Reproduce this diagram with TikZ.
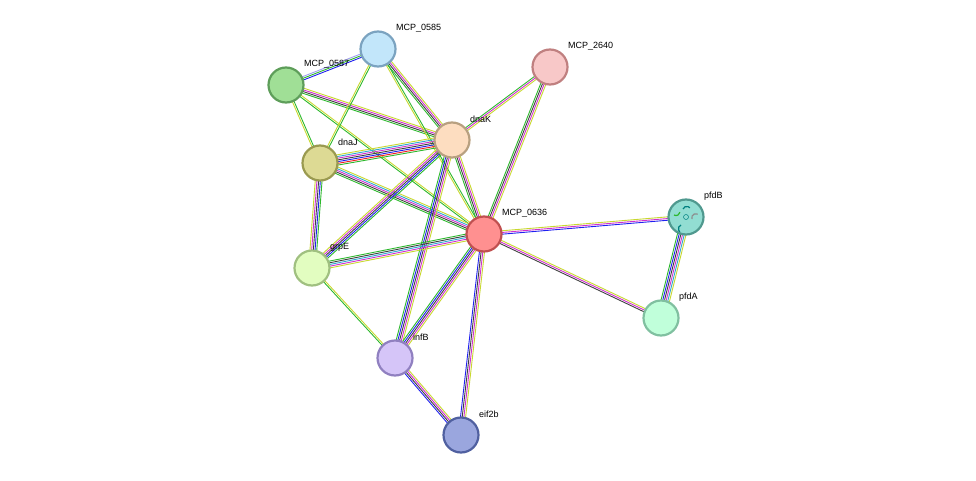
\documentclass[tikz,border=0pt]{standalone}
\usepackage{fontspec}
\setmainfont{Liberation Sans}
\usetikzlibrary{calc}
\definecolor{cG}{HTML}{2DB82D}
\definecolor{cY}{HTML}{C8D830}
\definecolor{cK}{HTML}{404040}
\definecolor{cM}{HTML}{D030D0}
\definecolor{cB}{HTML}{2020F0}
\definecolor{cC}{HTML}{30A8D0}
\definecolor{cR}{HTML}{F02020}
\definecolor{cL}{HTML}{A0A0F0}
\definecolor{f585}{HTML}{C2E6FA}\definecolor{d585}{HTML}{7BA3C0}
\definecolor{f587}{HTML}{A0DF96}\definecolor{d587}{HTML}{5E9E5A}
\definecolor{f2640}{HTML}{F8C8C8}\definecolor{d2640}{HTML}{C08080}
\definecolor{fK}{HTML}{FDDDC0}\definecolor{dK}{HTML}{B8A080}
\definecolor{fJ}{HTML}{DDDA94}\definecolor{dJ}{HTML}{9A9A50}
\definecolor{f636}{HTML}{FF9090}\definecolor{d636}{HTML}{C05050}
\definecolor{fpB}{HTML}{92DDD2}\definecolor{dpB}{HTML}{50998F}
\definecolor{fE}{HTML}{E2FDC0}\definecolor{dE}{HTML}{A0C080}
\definecolor{fpA}{HTML}{C0FFDA}\definecolor{dpA}{HTML}{80C0A0}
\definecolor{fI}{HTML}{D5C5F8}\definecolor{dI}{HTML}{9080C0}
\definecolor{fe}{HTML}{9AA6DE}\definecolor{de}{HTML}{5060A0}
\newcommand\E[4]{%
  \foreach \c [count=\i] in {#4} {
    \pgfmathsetmacro\off{(\i-1-(#3-1)/2)*1.7}
    \draw[\c, line width=0.9pt] ($(#1)!\off pt!90:(#2)$) -- ($(#2)!\off pt!-90:(#1)$);
  }}
\tikzset{prot/.style={circle, minimum size=35pt, line width=2.2pt, inner sep=0pt},
  lab/.style={anchor=west, font=\fontsize{9}{10}\selectfont, inner sep=0pt}}
\begin{document}
\begin{tikzpicture}[x=1pt,y=-1pt]
\useasboundingbox (0,0) rectangle (976,481);
\coordinate (p585) at (378,49);
\coordinate (p587) at (286,85);
\coordinate (p2640) at (550,67);
\coordinate (dnaK) at (452,140);
\coordinate (dnaJ) at (320,163);
\coordinate (p636) at (484,234);
\coordinate (pfdB) at (686,217);
\coordinate (grpE) at (312,268);
\coordinate (pfdA) at (661,318);
\coordinate (infB) at (395,358);
\coordinate (eif) at (461,435);
\E{p587}{p585}{3}{cB,cG,cL}
\E{p587}{dnaK}{4}{cG,cK,cM,cY}
\E{p587}{dnaJ}{2}{cY,cG}
\E{p587}{p636}{2}{cG,cY}
\E{p585}{dnaK}{4}{cG,cK,cM,cY}
\E{p585}{dnaJ}{2}{cY,cG}
\E{p585}{p636}{2}{cY,cG}
\E{dnaJ}{dnaK}{7}{cG,cR,cB,cK,cM,cC,cY}
\E{dnaJ}{p636}{5}{cG,cK,cM,cC,cY}
\E{dnaJ}{grpE}{5}{cY,cM,cK,cB,cG}
\E{p2640}{dnaK}{3}{cG,cM,cY}
\E{p2640}{p636}{4}{cG,cK,cM,cY}
\E{dnaK}{p636}{4}{cG,cK,cM,cY}
\E{dnaK}{grpE}{5}{cY,cM,cK,cB,cG}
\E{dnaK}{infB}{5}{cG,cB,cK,cM,cY}
\E{grpE}{p636}{5}{cY,cM,cC,cK,cG}
\E{grpE}{infB}{2}{cG,cY}
\E{p636}{infB}{5}{cG,cB,cK,cM,cY}
\E{p636}{eif}{4}{cB,cK,cM,cY}
\E{p636}{pfdB}{3}{cB,cM,cY}
\E{p636}{pfdA}{3}{cK,cM,cY}
\E{pfdB}{pfdA}{6}{cG,cB,cK,cM,cC,cY}
\E{infB}{eif}{4}{cB,cK,cM,cY}
\node[prot, fill=f585, draw=d585] (n585) at (p585) {};
\node[prot, fill=f587, draw=d587] (n587) at (p587) {};
\node[prot, fill=f2640, draw=d2640] (n2640) at (p2640) {};
\node[prot, fill=fK, draw=dK] (ndnaK) at (dnaK) {};
\node[prot, fill=fJ, draw=dJ] (ndnaJ) at (dnaJ) {};
\node[prot, fill=f636, draw=d636] (n636) at (p636) {};
\node[prot, fill=fpB, draw=dpB] (npfdB) at (pfdB) {};
\node[prot, fill=fE, draw=dE] (ngrpE) at (grpE) {};
\node[prot, fill=fpA, draw=dpA] (npfdA) at (pfdA) {};
\node[prot, fill=fI, draw=dI] (ninfB) at (infB) {};
\node[prot, fill=fe, draw=de] (neif) at (eif) {};
\draw[teal, line width=1.2pt] ($(pfdB)+(-3,-8)$) arc (200:320:4);
\draw[cG, line width=1.2pt] ($(pfdB)+(-12,-2)$) arc (120:10:4);
\draw[cK!60, line width=1.2pt] ($(pfdB)+(6,2)$) arc (160:300:4);
\draw[teal, line width=1.2pt] ($(pfdB)+(-5,8)$) arc (250:130:4);
\draw[teal, line width=0.5pt] (pfdB) circle (2.5);
\node[lab] at ($(p585)+(18,-21)$) {MCP\_0585};
\node[lab] at ($(p587)+(18,-21)$) {MCP\_0587};
\node[lab] at ($(p2640)+(18,-21)$) {MCP\_2640};
\node[lab] at ($(dnaK)+(18,-21)$) {dnaK};
\node[lab] at ($(dnaJ)+(18,-21)$) {dnaJ};
\node[lab] at ($(p636)+(18,-21)$) {MCP\_0636};
\node[lab] at ($(pfdB)+(18,-21)$) {pfdB};
\node[lab] at ($(grpE)+(18,-21)$) {grpE};
\node[lab] at ($(pfdA)+(18,-21)$) {pfdA};
\node[lab] at ($(infB)+(18,-21)$) {infB};
\node[lab] at ($(eif)+(18,-21)$) {eif2b};
\end{tikzpicture}
\end{document}
